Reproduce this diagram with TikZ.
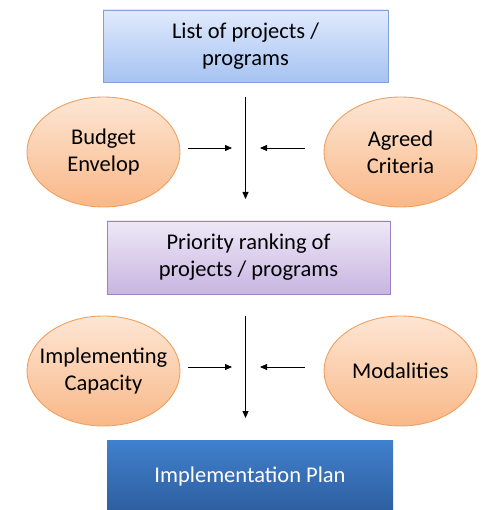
\documentclass[tikz,border=0pt]{standalone}
\usepackage{fontspec}
\setmainfont{Carlito}
\usetikzlibrary{shapes.geometric,arrows.meta}
\definecolor{boxAtop}{HTML}{E0EAFC}
\definecolor{boxAbot}{HTML}{A6C3F2}
\definecolor{boxAline}{HTML}{7FA0D8}
\definecolor{boxBtop}{HTML}{EEE8F6}
\definecolor{boxBbot}{HTML}{C8B5E2}
\definecolor{boxBline}{HTML}{9C82BE}
\definecolor{boxCtop}{HTML}{4080CE}
\definecolor{boxCbot}{HTML}{2E5E9E}
\definecolor{ovtop}{HTML}{FDE6D4}
\definecolor{ovbot}{HTML}{F9B888}
\definecolor{ovline}{HTML}{F0A05E}
\tikzset{
  txt/.style={font=\fontsize{22.5}{27}\selectfont, align=center, text=black},
  boxA/.style={txt, rectangle, draw=boxAline, line width=0.9pt, top color=boxAtop, bottom color=boxAbot, minimum width=285pt, minimum height=72pt, inner sep=0pt},
  boxB/.style={txt, rectangle, draw=boxBline, line width=0.9pt, top color=boxBtop, bottom color=boxBbot, minimum width=283pt, minimum height=73pt, inner sep=0pt},
  boxC/.style={txt, text=white, rectangle, draw=none, top color=boxCtop, bottom color=boxCbot, minimum width=286pt, minimum height=72pt, inner sep=0pt},
  oval/.style={txt, ellipse, draw=ovline, line width=0.9pt, top color=ovtop, bottom color=ovbot, minimum width=153pt, minimum height=110pt, inner sep=-30pt},
  conn/.style={line width=0.8pt, draw=black},
  arr/.style={conn, -{Triangle[length=7pt,width=6pt]}}
}
\begin{document}
\begin{tikzpicture}[x=1pt,y=-1pt]
\useasboundingbox (0,0) rectangle (480,510);
\node[boxA] (list) at (245.5,46) {List of projects /\\programs};
\node[oval] (budget) at (103.5,152) {Budget\\Envelop};
\node[oval] (criteria) at (400.5,152) {Agreed\\Criteria};
\node[boxB] (rank) at (248.5,257.5) {Priority ranking of\\projects / programs};
\node[oval] (capacity) at (103.5,371) {Implementing\\Capacity};
\node[oval] (modal) at (400.5,371) {Modalities};
\node[boxC] (plan) at (250,476) {Implementation Plan};
% connectors
\coordinate (v1top) at (245.5,97);
\coordinate (v1bot) at (245.5,199);
\coordinate (l1a) at (188,148);
\coordinate (l1b) at (232,148);
\coordinate (r1a) at (305,148);
\coordinate (r1b) at (260,148);
\coordinate (v2top) at (245.5,316);
\coordinate (v2bot) at (245.5,418);
\coordinate (l2a) at (188,367);
\coordinate (l2b) at (232,367);
\coordinate (r2a) at (305,367);
\coordinate (r2b) at (260,367);
\draw[arr] (v1top) -- (v1bot);
\draw[arr] (l1a) -- (l1b);
\draw[arr] (r1a) -- (r1b);
\draw[arr] (v2top) -- (v2bot);
\draw[arr] (l2a) -- (l2b);
\draw[arr] (r2a) -- (r2b);
\end{tikzpicture}
\end{document}
